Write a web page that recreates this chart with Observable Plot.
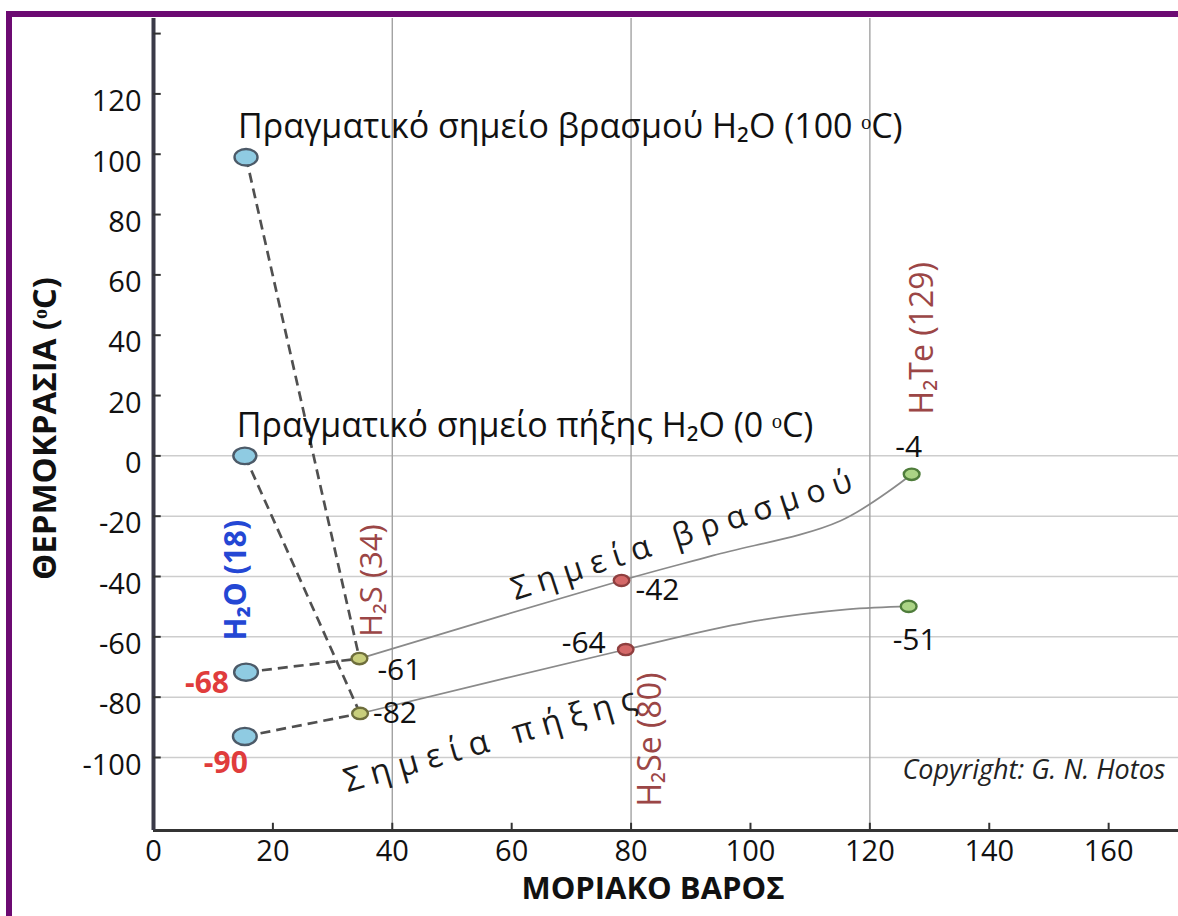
<!DOCTYPE html>
<html><head><meta charset="utf-8">
<script src="https://cdn.jsdelivr.net/npm/d3@7"></script>
<script src="https://cdn.jsdelivr.net/npm/@observablehq/plot@0.6"></script>
<style>
html,body{margin:0;padding:0;background:#fff;width:1178px;height:916px;overflow:hidden;}
#chart{position:absolute;left:0;top:0;}
#frame{position:absolute;left:6px;top:11px;width:1220px;height:960px;border:6px solid #6c0a72;box-sizing:border-box;pointer-events:none;}
</style></head><body>
<div id="chart"></div><div id="frame"></div>
<script>
// ---- data ----
const xTicks = [0, 20, 40, 60, 80, 100, 120, 140, 160];
const yTicks = [-100, -80, -60, -40, -20, 0, 20, 40, 60, 80, 100, 120];
const yTickMarks = [-100, -80, -60, -40, -20, 0, 20, 40, 60, 80, 100, 120, 140];
const gridY = [0, -20, -40, -60, -80, -100];
const gridX = [40, 80, 120];

const compounds = ["H₂O (18)", "H₂S (34)", "H₂Se (80)", "H₂Te (129)"];
// boiling points (drawn position) and written values
const boilX = [15.5, 34.5, 78.4, 127.0];
const boilY = [-71.7, -67.2, -41.3, -6.1];
const boilText = ["-68", "-61", "-42", "-4"];
// freezing points (drawn position) and written values
const freezeX = [15.3, 34.6, 79.1, 126.5];
const freezeY = [-93.0, -85.4, -64.2, -49.9];
const freezeText = ["-90", "-82", "-64", "-51"];
// real water points
const realX = [15.5, 15.3];
const realY = [99, 0];
const realText = ["Πραγματικό σημείο βρασμού H₂O (100 ᵒC)", "Πραγματικό σημείο πήξης H₂O (0 ᵒC)"];
// hand-drawn trend curves
const boilCurveX = [34.5, 78.4, 93.8, 115.1, 127.0];
const boilCurveY = [-67.2, -41.3, -33.0, -21.5, -6.1];
const freezeCurveX = [34.6, 79.1, 99.5, 116.2, 126.5];
const freezeCurveY = [-85.4, -64.2, -55.2, -50.9, -49.9];

const yTitle = "ΘΕΡΜΟΚΡΑΣΙΑ (ᵒC)";
const xTitle = "ΜΟΡΙΑΚΟ ΒΑΡΟΣ";
const boilCaption = "Σ η μ ε ί α   β ρ α σ μ ο ύ";
const freezeCaption = "Σ η μ ε ί α   π ή ξ η ς";
const copyright = "Copyright: G. N. Hotos";

// ---- styles ----
const X0 = 0, X1 = 171.7, Y0 = -124.2, Y1 = 145;
const fills = ["#8fcbe2", "#c9cf7c", "#d46868", "#abd485"];
const strokes = ["#4c5a68", "#6e6e3c", "#8f3f3f", "#4f7d3b"];
const radii = [9.5, 6.3, 6.2, 6.3];
const compoundColor = ["#2447d4", "#9b4646", "#9b4646", "#9b4646"];
const compoundSize = [30, 31, 32, 32];
const FONT = "Open Sans";

const ellipse = {
  draw(ctx, size) {
    const r = Math.sqrt(size / Math.PI);
    const rx = r * 1.25, ry = r * 0.9, k = 0.5523;
    ctx.moveTo(rx, 0);
    ctx.bezierCurveTo(rx, k * ry, k * rx, ry, 0, ry);
    ctx.bezierCurveTo(-k * rx, ry, -rx, k * ry, -rx, 0);
    ctx.bezierCurveTo(-rx, -k * ry, -k * rx, -ry, 0, -ry);
    ctx.bezierCurveTo(k * rx, -ry, rx, -k * ry, rx, 0);
    ctx.closePath();
  }
};

const idx = compounds.map((_, i) => i);
const marks = [];

// grid
marks.push(Plot.ruleY(gridY, {y: d => d, x1: X0, x2: X1, stroke: "#cdcdcd", strokeWidth: 1.5}));
marks.push(Plot.ruleX(gridX, {x: d => d, y1: Y0, y2: Y1, stroke: "#a2a2a2", strokeWidth: 1.4}));

// axes lines & ticks
marks.push(Plot.ruleY([Y0], {y: d => d, x1: X0, x2: X1, stroke: "#343434", strokeWidth: 3}));
marks.push(Plot.ruleX([0], {x: d => d, y1: Y0, y2: Y1, stroke: "#3a3a48", strokeWidth: 4}));
marks.push(Plot.ruleY(yTickMarks, {y: d => d, x1: 0, x2: 1.3, stroke: "#333", strokeWidth: 2}));
marks.push(Plot.ruleX(xTicks.filter(d => d > 0), {x: d => d, y1: Y0, y2: Y0 + 2.4, stroke: "#333", strokeWidth: 2}));
marks.push(Plot.axisY(yTicks, {tickSize: 0, tickPadding: 12, fontSize: 29, dy: 8, label: null, fill: "#111", tickFormat: d => String(d)}));
marks.push(Plot.axisX(xTicks, {tickSize: 0, tickPadding: 10, fontSize: 29, label: null, fill: "#111", tickFormat: d => String(d)}));

// trend curves
marks.push(Plot.line(boilCurveX.map((x, i) => i), {x: i => boilCurveX[i], y: i => boilCurveY[i], curve: "catmull-rom", stroke: "#8a8a8a", strokeWidth: 1.7}));
marks.push(Plot.line(freezeCurveX.map((x, i) => i), {x: i => freezeCurveX[i], y: i => freezeCurveY[i], curve: "catmull-rom", stroke: "#8a8a8a", strokeWidth: 1.7}));

// dashed connections from water to H2S
const links = [
  {x1: realX[0], y1: realY[0], x2: boilX[1], y2: boilY[1]},
  {x1: realX[1], y1: realY[1], x2: freezeX[1], y2: freezeY[1]},
  {x1: boilX[0], y1: boilY[0], x2: boilX[1], y2: boilY[1]},
  {x1: freezeX[0], y1: freezeY[0], x2: freezeX[1], y2: freezeY[1]}
];
marks.push(Plot.link(links, {x1: "x1", y1: "y1", x2: "x2", y2: "y2", stroke: "#505050", strokeWidth: 2.7, strokeDasharray: "10,6"}));

// points
for (const i of idx) {
  marks.push(Plot.dot([i], {x: j => boilX[j], y: j => boilY[j], r: radii[i], symbol: ellipse, fill: fills[i], stroke: strokes[i], strokeWidth: 2.4}));
  marks.push(Plot.dot([i], {x: j => freezeX[j], y: j => freezeY[j], r: radii[i], symbol: ellipse, fill: fills[i], stroke: strokes[i], strokeWidth: 2.4}));
}
marks.push(Plot.dot([0, 1], {x: j => realX[j], y: j => realY[j], r: 9.2, symbol: ellipse, fill: fills[0], stroke: strokes[0], strokeWidth: 2.4}));

// real water annotations
marks.push(Plot.text([0, 1], {x: j => realX[j], y: j => realY[j], text: j => realText[j], textAnchor: "start", dx: -8, dy: -30, fontSize: 34, fontFamily: FONT, fill: "#111"}));

// compound labels (rotated)
const compOff = [[-10, -92, "b"], [13, -78, "b"], [25, 90, "f"], [11, -136, "b"]];
for (const i of idx) {
  const [dx, dy, w] = compOff[i];
  marks.push(Plot.text([i], {
    x: j => (w === "b" ? boilX[j] : freezeX[j]), y: j => (w === "b" ? boilY[j] : freezeY[j]),
    text: j => compounds[j], rotate: -90, dx, dy, fontSize: compoundSize[i], fontFamily: FONT,
    fontWeight: i === 0 ? "bold" : "normal", fill: compoundColor[i], lineAnchor: "middle"
  }));
}

// value labels
const boilOff = [[-39, 11, "middle"], [18, 12, "start"], [14, 10, "start"], [-3, -27, "middle"]];
const freezeOff = [[-19, 27, "middle"], [13, 0, "start"], [-20, -6, "end"], [-16, 34, "start"]];
for (const i of idx) {
  const water = i === 0;
  const common = {fontSize: 30, fontWeight: water ? "bold" : "normal", fill: water ? "#e03c3c" : "#111", fontFamily: FONT};
  marks.push(Plot.text([i], {x: j => boilX[j], y: j => boilY[j], text: j => boilText[j], dx: boilOff[i][0], dy: boilOff[i][1], textAnchor: boilOff[i][2], ...common}));
  marks.push(Plot.text([i], {x: j => freezeX[j], y: j => freezeY[j], text: j => freezeText[j], dx: freezeOff[i][0], dy: freezeOff[i][1], textAnchor: freezeOff[i][2], ...common}));
}

// curve captions
marks.push(Plot.text([2], {x: j => boilX[j], y: j => boilY[j], text: () => boilCaption, dx: 60, dy: -45, rotate: -18, fontSize: 32, fill: "#1a1a1a", fontFamily: FONT}));
marks.push(Plot.text([1], {x: j => freezeX[j], y: j => freezeY[j], text: () => freezeCaption, dx: 130, dy: 27, rotate: -16, fontSize: 33, fill: "#1a1a1a", fontFamily: FONT}));

// copyright
marks.push(Plot.text([copyright], {text: d => d, frameAnchor: "bottom-right", textAnchor: "end", dx: -13, dy: -52, fontSize: 27, fontStyle: "italic", fill: "#222", fontFamily: FONT}));

// axis titles
marks.push(Plot.text([yTitle], {text: d => d, frameAnchor: "left", textAnchor: "middle", rotate: -90, dx: -108, dy: 4, fontSize: 33, fontWeight: "bold", fill: "#111", fontFamily: FONT}));
marks.push(Plot.text([xTitle], {text: d => d, frameAnchor: "bottom", textAnchor: "middle", dx: -13, dy: 68, fontSize: 31, fontWeight: "bold", fill: "#111", fontFamily: FONT}));

const chart = Plot.plot({
  width: 1178, height: 916,
  marginLeft: 153, marginRight: 0, marginTop: 18, marginBottom: 86,
  x: {domain: [X0, X1], axis: null},
  y: {domain: [Y0, Y1], axis: null},
  style: {fontFamily: FONT, background: "white", overflow: "visible"},
  marks
});
document.getElementById("chart").appendChild(chart);
</script></body></html>
